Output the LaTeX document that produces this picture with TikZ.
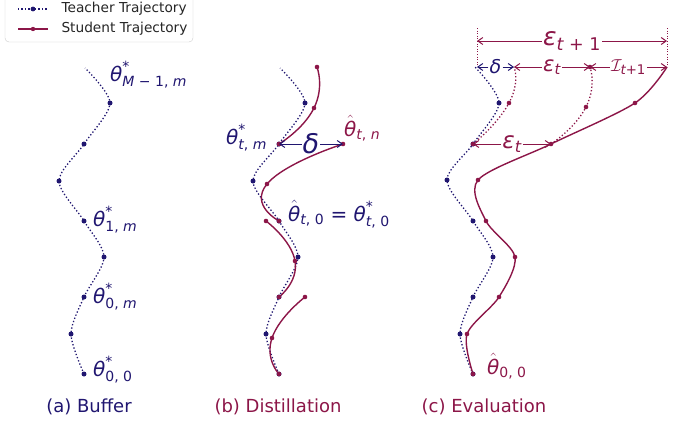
\documentclass[tikz,border=0pt]{standalone}
\usepackage{fontspec}
\setmainfont{DejaVu Sans}
\usepackage{amsmath}
\usetikzlibrary{arrows.meta,calc}
\definecolor{tcol}{RGB}{32,22,112}
\definecolor{scol}{RGB}{140,22,72}
\newcommand{\thv}{\textit{θ}}
\newcommand{\tstar}[1]{$\thv^{\text{*}}_{\text{#1}}$}
\newcommand{\thath}[1]{$\hat{\thv}_{\text{#1}}$}

\begin{document}
\begin{tikzpicture}[x=1pt, y=-1pt,
    teacher/.style={tcol, line width=1.3pt, dash pattern=on 1.3pt off 2.1pt},
    student/.style={scol, line width=1.4pt},
    sbranch/.style={scol, line width=1.3pt, dash pattern=on 1.3pt off 2.1pt},
    guide/.style={scol, line width=1pt, dash pattern=on 1pt off 1.6pt},
    gap/.style={-{Straight Barb[length=5pt,width=7pt]}, line width=1pt},
    lbl/.style={inner sep=0pt, anchor=base west, font=\fontsize{20}{24}\selectfont},
    captxt/.style={font=\fontsize{18}{22}\selectfont}]
  \useasboundingbox (0,0) rectangle (679,423);

  % legend
  \draw[rounded corners=4pt, draw=black!20, fill=white] (5,-8) rectangle (193,42);
  \coordinate (lt1) at (18,9);  \coordinate (lt2) at (48,9);
  \coordinate (ls1) at (18,29); \coordinate (ls2) at (48,29);
  \draw[teacher] (lt1) -- (lt2);
  \fill[tcol] ($(lt1)!0.5!(lt2)$) circle (2.4pt);
  \draw[student] (ls1) -- (ls2);
  \fill[scol] ($(ls1)!0.5!(ls2)$) circle (2.2pt);
  \node[anchor=west, font=\fontsize{13.7}{16}\selectfont, text=black!85] (lgt) at (58,9) {Teacher Trajectory};
  \node[anchor=west, font=\fontsize{13.7}{16}\selectfont, text=black!85] (lgs) at (58,29) {Student Trajectory};

  % (a) buffer
  \coordinate (a0) at (84,374); \coordinate (a1) at (71,334);
  \coordinate (a2) at (84,297); \coordinate (a3) at (104,257);
  \coordinate (a4) at (84,221); \coordinate (a5) at (59,181);
  \coordinate (a6) at (84,144); \coordinate (a7) at (110,103);
  \coordinate (a8) at (85,68);
  \draw[teacher] plot[smooth] coordinates {(a0) (a1) (a2) (a3) (a4) (a5) (a6) (a7) (a8)};
  \foreach \p in {a0,a1,a2,a3,a4,a5,a6,a7}
    \fill[tcol] (\p) circle (2.5pt);
  \node[lbl, text=tcol] (ta0) at (93,376) {\tstar{0, 0}};
  \node[lbl, text=tcol] (ta1) at (93,303) {\tstar{0, \textit{m}}};
  \node[lbl, text=tcol] (ta2) at (93,226) {\tstar{1, \textit{m}}};
  \node[lbl, text=tcol] (ta3) at (110,81) {\tstar{\textit{M} − 1, \textit{m}}};

  % (b) distillation
  \coordinate (b0) at (279,374); \coordinate (b1) at (266,334);
  \coordinate (b2) at (279,297); \coordinate (b3) at (298,257);
  \coordinate (b4) at (279,221); \coordinate (b5) at (253,181);
  \coordinate (b6) at (279,144); \coordinate (b7) at (305,103);
  \coordinate (b8) at (280,68);
  \draw[teacher] plot[smooth] coordinates {(b0) (b1) (b2) (b3) (b4) (b5) (b6) (b7) (b8)};
  \coordinate (p1) at (272,338); \coordinate (p2) at (305,297);
  \coordinate (q1) at (295,261); \coordinate (q2) at (266,221);
  \coordinate (r1) at (267,184); \coordinate (bn) at (343,144);
  \coordinate (u1) at (314,108); \coordinate (u2) at (317,67);
  \draw[student] plot[smooth, tension=1] coordinates {(b0) (p1) (p2)};
  \draw[student] plot[smooth, tension=1] coordinates {(b2) (q1) (q2)};
  \draw[student] plot[smooth, tension=1] coordinates {(b4) (r1) (bn)};
  \draw[student] plot[smooth, tension=1] coordinates {(b6) (u1) (u2)};
  \foreach \p in {b0,b1,b2,b3,b4,b5,b6,b7}
    \fill[tcol] (\p) circle (2.5pt);
  \foreach \p in {b0,p1,p2,b2,q1,q2,b4,r1,bn,b6,u1,u2}
    \fill[scol] (\p) circle (2.3pt);
  \node[inner sep=1pt, text=tcol, font=\fontsize{27}{30}\selectfont] (dlb) at ($(b6)!0.5!(bn)$) {\textit{δ}};
  \draw[gap, tcol] (dlb) -- (b6);
  \draw[gap, tcol] (dlb) -- (bn);
  \node[lbl, text=tcol] (tbm) at (226,144) {\tstar{\textit{t}, \textit{m}}};
  \node[lbl, text=scol] (tbn) at (344,136) {\thath{\textit{t}, \textit{n}}};
  \node[lbl, text=tcol] (tb0) at (288,221) {\thath{\textit{t}, 0} = \tstar{\textit{t}, 0}};

  % (c) evaluation
  \coordinate (c0) at (473,374); \coordinate (c1) at (460,334);
  \coordinate (c2) at (473,297); \coordinate (c3) at (493,257);
  \coordinate (c4) at (473,221); \coordinate (c5) at (447,180);
  \coordinate (c6) at (473,144); \coordinate (c7) at (499,103);
  \coordinate (c8) at (475,67);
  \draw[teacher] plot[smooth] coordinates {(c0) (c1) (c2) (c3) (c4) (c5) (c6) (c7) (c8)};
  \coordinate (s1) at (467,334); \coordinate (s2) at (499,297);
  \coordinate (s3) at (515,257); \coordinate (s4) at (486,221);
  \coordinate (s5) at (478,180); \coordinate (s6) at (551,144);
  \coordinate (s7) at (635,103); \coordinate (s8) at (667,67);
  \draw[student] plot[smooth] coordinates {(c0) (s1) (s2) (s3) (s4) (s5) (s6) (s7) (s8)};
  \coordinate (v1) at (509,103); \coordinate (v2) at (514,67);
  \coordinate (w1) at (586,107); \coordinate (w2) at (590,67);
  \draw[sbranch] plot[smooth, tension=1] coordinates {(c6) (v1) (v2)};
  \draw[sbranch] plot[smooth, tension=1] coordinates {(s6) (w1) (w2)};
  \foreach \p in {c0,c1,c2,c3,c4,c5,c6,c7}
    \fill[tcol] (\p) circle (2.5pt);
  \foreach \p in {c0,s1,s2,s3,s4,s5,s6,s7,v1,w1,w2,c6}
    \fill[scol] (\p) circle (2.3pt);
  \node[lbl, text=scol] (tc0) at (487,374) {\thath{0, 0}};

  % gaps on top
  \coordinate (g0) at (477,67); \coordinate (g3) at (667,67);
  \coordinate (h0) at (477,28); \coordinate (h3) at (667,28);
  \coordinate (k0) at (477,41); \coordinate (k3) at (667,41);
  \draw[guide] (h0) -- (g0);
  \draw[guide] (h3) -- (g3);
  \node[inner sep=1pt, text=scol, font=\fontsize{25}{28}\selectfont] (et1) at ($(k0)!0.5!(k3)$) {$\textit{ε}_{\textit{t}\text{ + 1}}$};
  \draw[gap, scol] (et1) -- (k0);
  \draw[gap, scol] (et1) -- (k3);
  \node[inner sep=1pt, text=tcol, font=\fontsize{19}{22}\selectfont] (dlc) at ($(g0)!0.5!(v2)$) {\textit{δ}};
  \draw[gap, tcol] (dlc) -- (g0);
  \draw[gap, tcol] (dlc) -- (v2);
  \node[inner sep=1pt, text=scol, font=\fontsize{21}{24}\selectfont] (et0) at ($(v2)!0.5!(w2)$) {$\textit{ε}_{\textit{t}}$};
  \draw[gap, scol] (et0) -- (v2);
  \draw[gap, scol] (et0) -- (w2);
  \node[inner sep=1pt, text=scol, font=\fontsize{19}{22}\selectfont] (itp) at ($(w2)!0.5!(g3)$) {$\mathcal{I}_{\textit{t}\text{+1}}$};
  \draw[gap, scol] (itp) -- (w2);
  \draw[gap, scol] (itp) -- (g3);
  \node[inner sep=1pt, text=scol, font=\fontsize{23}{26}\selectfont] (et2) at ($(c6)!0.5!(s6)$) {$\textit{ε}_{\textit{t}}$};
  \draw[gap, scol] (et2) -- (c6);
  \draw[gap, scol] (et2) -- (s6);

  % captions
  \node[captxt, text=tcol] (capa) at (89,407) {(a) Buffer};
  \node[captxt, text=scol] (capb) at (278,407) {(b) Distillation};
  \node[captxt, text=scol] (capc) at (484,407) {(c) Evaluation};
\end{tikzpicture}
\end{document}
